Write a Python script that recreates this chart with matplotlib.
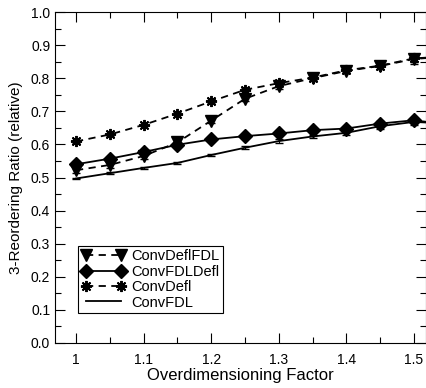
import matplotlib
matplotlib.use("Agg")
import matplotlib.pyplot as plt
import numpy as np

plt.rcParams['font.family'] = ['Liberation Sans', 'DejaVu Sans']

x = [1.0, 1.05, 1.1, 1.15, 1.2, 1.25, 1.3, 1.35, 1.4, 1.45, 1.5, 1.55]

deflfdl = [0.522, 0.538, 0.565, 0.606, 0.672, 0.738, 0.776, 0.800, 0.822, 0.837, 0.858, 0.866]
deflfdl_err = [0.008, 0.008, 0.008, 0.010, 0.008, 0.008, 0.008, 0.006, 0.006, 0.008, 0.016, 0.016]

fdldefl = [0.540, 0.557, 0.577, 0.599, 0.615, 0.625, 0.633, 0.643, 0.648, 0.663, 0.673, 0.660]
fdldefl_err = [0.006, 0.006, 0.006, 0.006, 0.005, 0.005, 0.006, 0.006, 0.006, 0.008, 0.008, 0.008]

defl = [0.609, 0.630, 0.659, 0.693, 0.730, 0.765, 0.785, 0.802, 0.824, 0.838, 0.860, 0.866]
defl_err = [0.004, 0.004, 0.004, 0.005, 0.005, 0.005, 0.005, 0.005, 0.005, 0.005, 0.010, 0.010]

fdl = [0.497, 0.513, 0.529, 0.544, 0.568, 0.590, 0.610, 0.624, 0.635, 0.655, 0.668, 0.663]
fdl_err = [0.003, 0.003, 0.003, 0.003, 0.003, 0.004, 0.006, 0.005, 0.006, 0.008, 0.008, 0.008]

labels = ["ConvDeflFDL", "ConvFDLDefl", "ConvDefl", "ConvFDL"]

fig = plt.figure(figsize=(4.27, 3.88), dpi=100)
ax = fig.add_axes([0.129, 0.116, 0.869, 0.853])

series = [
    (deflfdl, deflfdl_err, '--', 'v', 8, 1.0),
    (fdldefl, fdldefl_err, '-', 'D', 7, 1.0),
    (defl, defl_err, '--', (8, 2, 0), 8, 1.4),
    (fdl, fdl_err, '-', None, 0, 1.0),
]

handles = []
for (y, err, ls, mk, ms, mew), lab in zip(series, labels):
    ax.errorbar(x, y, yerr=err, fmt='none', ecolor='k', capsize=3, elinewidth=0.8)
    kw = dict(color='k', ls=ls, lw=1.3, label=lab)
    if ls == '--':
        kw['dashes'] = (4, 3)
    if mk is not None:
        kw.update(marker=mk, ms=ms, mew=mew)
    h, = ax.plot(x, y, **kw)
    handles.append(h)

ax.set_xlim(0.969, 1.518)
ax.set_ylim(0.0, 1.0)
ax.set_xticks([1.0, 1.1, 1.2, 1.3, 1.4, 1.5])
ax.set_xticklabels(["1", "1.1", "1.2", "1.3", "1.4", "1.5"])
ax.set_xticks(np.arange(1.05, 1.5, 0.1), minor=True)
ax.set_yticks(np.arange(0, 1.01, 0.1))
ax.set_yticklabels(["%.1f" % v for v in np.arange(0, 1.01, 0.1)])
ax.set_yticks(np.arange(0.05, 1.0, 0.1), minor=True)
ax.tick_params(which='both', direction='in', top=True, right=True, labelsize=10)
ax.tick_params(which='major', length=7, width=0.8)
ax.tick_params(which='minor', length=4, width=0.8)
ax.tick_params(axis='x', pad=7)

ax.set_xlabel("Overdimensioning Factor", fontsize=12, labelpad=1)
ax.set_ylabel("3-Reordering Ratio (relative)", fontsize=11, labelpad=6)

leg = ax.legend(handles=handles, loc='lower left', bbox_to_anchor=(0.062, 0.09), fontsize=10.5,
                frameon=True, fancybox=False, edgecolor='k', framealpha=1, numpoints=2,
                handlelength=3.0, borderpad=0.25, labelspacing=0.1, handletextpad=0.4,
                borderaxespad=0)
leg.get_frame().set_linewidth(0.8)

fig.savefig("out.png", dpi=100)
